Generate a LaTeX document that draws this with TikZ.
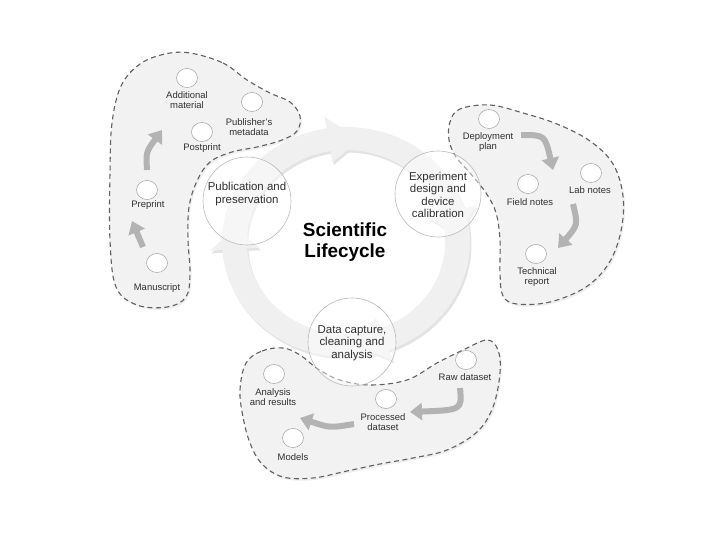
\documentclass[tikz,border=0pt]{standalone}
\usepackage{fontspec}
\setmainfont{Liberation Sans}
\usetikzlibrary{arrows.meta,shapes.geometric,shadows}
\definecolor{ringc}{HTML}{F0F0F0}
\definecolor{blobc}{HTML}{F2F2F2}
\definecolor{dashc}{HTML}{606060}
\definecolor{txt}{HTML}{303030}
\definecolor{arr}{HTML}{B3B3B3}
\newcommand\leftblob{plot[smooth cycle,tension=0.6] coordinates {(190,53) (223,63) (247,80) (270,93) (290,102) (300,116) (297,131) (282,140) (257,147) (232,152) (210,162) (197,181) (189,207) (188,240) (190,273) (186,297) (167,307) (137,305) (116,287) (110,240) (110,173) (112,123) (121,86) (140,64) (165,54)}}
\newcommand\rightblob{plot[smooth cycle,tension=0.6] coordinates {(460,109) (490,105) (523,113) (557,124) (590,141) (613,164) (623,196) (621,231) (609,263) (586,287) (550,302) (517,304) (503,296) (500,273) (500,240) (496,213) (486,193) (470,173) (456,157) (449,140) (450,122)}}
\newcommand\bottomblob{plot[smooth cycle,tension=0.6] coordinates {(246,363) (262,351) (283,348) (300,355) (318,369) (340,380) (370,385) (407,380) (437,363) (463,350) (487,340) (498,350) (500,373) (493,407) (477,432) (447,450) (413,458) (380,464) (347,471) (313,478) (283,477) (262,464) (250,443) (243,417) (240,390)}}
\begin{document}
\begin{tikzpicture}[x=1bp,y=-1bp,
  item/.style={ellipse,draw=gray!75,fill=white,line width=0.5bp,minimum width=21bp,minimum height=19bp,inner sep=0},
  lbl/.style={font=\fontsize{9.5}{10.5}\selectfont,text=txt,align=center,inner sep=0},
  stage/.style={circle,draw=gray!55,line width=0.6bp,fill=white,fill opacity=0.45,minimum size=88bp,inner sep=0},
  stagetxt/.style={font=\fontsize{11.5}{12.3}\selectfont,text=txt,align=center,inner sep=0},
  blobline/.style={draw=dashc,line width=1.1bp,dash pattern=on 5bp off 3.5bp},
  flow/.style={draw=arr,line width=6bp,-{Triangle[length=12bp,width=17bp]}},
]
\useasboundingbox[fill=white] (0,0) rectangle (720,540);

% blob fills
\fill[blobc,drop shadow={opacity=0.12,shadow xshift=1.5bp,shadow yshift=-2bp}] \leftblob;
\fill[blobc,drop shadow={opacity=0.12,shadow xshift=1.5bp,shadow yshift=-2bp}] \rightblob;
\fill[blobc,drop shadow={opacity=0.12,shadow xshift=1.5bp,shadow yshift=-2bp}] \bottomblob;

% ring
\begin{scope}[shift={(346,242)},xscale=124,yscale=115]
  \begin{scope}[shift={(0.012,0.022)}]
    \fill[black!11,even odd rule] (0,0) circle (1) (0,0) circle (0.8);
    \foreach \a/\b in {261/277,343/356,70/84,176/188}
      \fill[black!11] (\a:1.1) -- (\b:0.9) -- (\a:0.7) -- cycle;
  \end{scope}
  \fill[ringc,even odd rule] (0,0) circle (1) (0,0) circle (0.8);
  \foreach \a/\b in {261/277,343/356,70/84,176/188}
    \fill[ringc] (\a:1.1) -- (\b:0.9) -- (\a:0.7) -- cycle;
\end{scope}

% blob outlines
\draw[blobline] \leftblob;
\draw[blobline] \rightblob;
\draw[blobline] \bottomblob;

% stages
\node[stage] (pub) at (247,201) {};
\node[stage,minimum size=86bp] (exp) at (438,194) {};
\node[stage] (dat) at (352,342) {};
\node[stagetxt] (pubt) at (247,194) {Publication and\\preservation};
\node[stagetxt] (expt) at (438,195) {Experiment\\design and\\device\\calibration};
\node[stagetxt] (datt) at (352,343) {Data capture,\\cleaning and\\analysis};

\node[font=\bfseries\fontsize{19}{21}\selectfont,align=center,inner sep=0] (title) at (345,242) {Scientific\\Lifecycle};

% left items
\node[item] (addc) at (187,78) {};
\node[lbl] (add) at (187,100) {Additional\\material};
\node[item] (pubmc) at (252,102) {};
\node[lbl] (pubm) at (249,127) {Publisher's\\metadata};
\node[item] (postc) at (202,132) {};
\node[lbl] (post) at (202,148) {Postprint};
\node[item] (prec) at (147,190) {};
\node[lbl] (pre) at (148,205) {Preprint};
\node[item] (manc) at (157,263) {};
\node[lbl] (man) at (157,288) {Manuscript};

% right items
\node[item] (depc) at (489,119) {};
\node[lbl] (dep) at (488,142) {Deployment\\plan};
\node[item] (fldc) at (528,184) {};
\node[lbl] (fld) at (530,202) {Field notes};
\node[item] (labc) at (591,173) {};
\node[lbl] (lab) at (590,190) {Lab notes};
\node[item] (tecc) at (536,254) {};
\node[lbl] (tec) at (537,277) {Technical\\report};

% bottom items
\node[item] (rawc) at (466,360) {};
\node[lbl] (raw) at (465,377) {Raw dataset};
\node[item] (proc) at (386,399) {};
\node[lbl] (pro) at (383,422) {Processed\\dataset};
\node[item] (anac) at (274,374) {};
\node[lbl] (ana) at (273,397) {Analysis\\and results};
\node[item] (modc) at (293,438) {};
\node[lbl] (mod) at (293,457) {Models};

% flow arrows
\coordinate (l1s) at (143,247); \coordinate (l1e) at (132,221);
\draw[flow] (l1s) -- (l1e);
\coordinate (l2s) at (147,170); \coordinate (l2e) at (162,130);
\draw[flow] (l2s) .. controls (146,152) .. (l2e);
\coordinate (r1s) at (521,135); \coordinate (r1e) at (553,170);
\draw[flow] (r1s) .. controls (545,135) .. (r1e);
\coordinate (r2s) at (573,204); \coordinate (r2e) at (558,248);
\draw[flow] (r2s) .. controls (578,225) .. (r2e);
\coordinate (b1s) at (460,388); \coordinate (b1e) at (410,412);
\draw[flow] (b1s) .. controls (462,410) .. (b1e);
\coordinate (b2s) at (354,424); \coordinate (b2e) at (300,418);
\draw[flow] (b2s) .. controls (330,428) .. (b2e);
\end{tikzpicture}
\end{document}
